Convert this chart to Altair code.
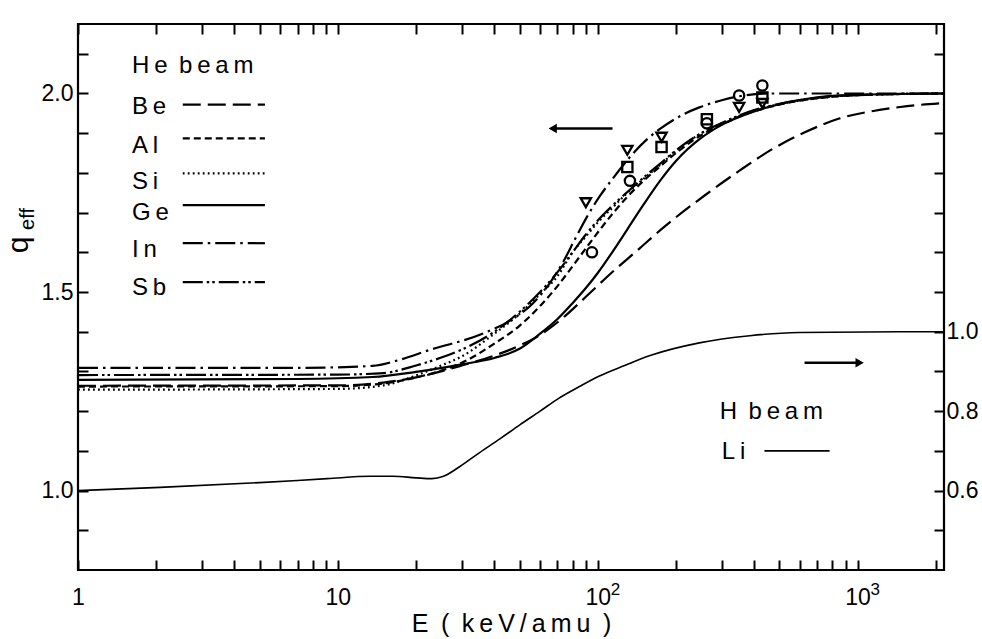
import altair as alt
import pandas as pd

# ---------------- data ----------------
# He beam effective charge, left axis
BE_E = [1, 10, 15, 20, 30, 40, 50, 60, 75, 90, 115, 145, 175, 260, 350, 470, 630, 850, 1150, 1550, 2150]
BE_Q = [1.264, 1.265, 1.272, 1.285, 1.315, 1.340, 1.365, 1.392, 1.440, 1.488, 1.553, 1.610, 1.657, 1.745,
        1.805, 1.860, 1.903, 1.937, 1.956, 1.968, 1.976]

GRID_E = [1, 10, 15, 20, 25, 30, 40, 50, 60, 70, 80, 90, 100, 115, 130, 150, 175, 200, 250, 300, 400, 500, 700, 1000, 2150]
AL_Q = [1.262, 1.263, 1.270, 1.285, 1.302, 1.322, 1.370, 1.415, 1.465, 1.515, 1.565, 1.610, 1.650, 1.700, 1.740,
        1.780, 1.818, 1.850, 1.895, 1.922, 1.955, 1.972, 1.988, 1.996, 2.0]
SI_Q = [1.254, 1.256, 1.265, 1.290, 1.315, 1.338, 1.395, 1.445, 1.495, 1.540, 1.600, 1.640, 1.675, 1.715, 1.750,
        1.785, 1.822, 1.855, 1.900, 1.925, 1.957, 1.973, 1.988, 1.996, 2.0]
SB_Q = [1.291, 1.292, 1.296, 1.315, 1.335, 1.355, 1.400, 1.450, 1.500, 1.550, 1.600, 1.645, 1.680, 1.720, 1.752,
        1.788, 1.825, 1.857, 1.900, 1.926, 1.958, 1.974, 1.989, 1.996, 2.0]

GE_E = [1, 7, 13.6, 20, 30, 40, 50, 60, 70, 80, 90, 100, 115, 130, 150, 175, 200, 250, 300, 400, 500, 700, 1000, 2150]
GE_Q = [1.279, 1.281, 1.286, 1.299, 1.318, 1.334, 1.357, 1.395, 1.432, 1.472, 1.510, 1.548, 1.605, 1.658, 1.720,
        1.783, 1.830, 1.888, 1.921, 1.955, 1.973, 1.990, 1.997, 2.0]

IN_E = [1, 7, 13.6, 17, 22.5, 36, 46, 56, 65, 73.5, 82, 91, 102, 114, 133, 155, 173, 210, 246, 300, 350, 471, 2150]
IN_Q = [1.309, 1.309, 1.314, 1.328, 1.354, 1.395, 1.428, 1.470, 1.520, 1.575, 1.635, 1.690, 1.742, 1.785, 1.840,
        1.885, 1.910, 1.945, 1.965, 1.983, 1.993, 2.0, 2.0]

# H beam (Li target), right axis
H_E = [1, 2.07, 5.0, 9.1, 13.3, 16.3, 20, 23, 25.5, 29.4, 35, 42, 50, 60, 71, 85, 101, 127, 159, 246, 385, 595, 1450, 2150]
H_R = [0.600, 0.608, 0.620, 0.630, 0.636, 0.636, 0.632, 0.630, 0.636, 0.660, 0.695, 0.730, 0.765, 0.800, 0.833,
       0.862, 0.888, 0.915, 0.940, 0.972, 0.990, 0.998, 1.0, 1.0]

# experimental points
TRI_E = [90, 130, 176, 350, 430]
TRI_Q = [1.725, 1.857, 1.89, 1.965, 1.975]
SQ_E = [130, 176, 263, 430]
SQ_Q = [1.815, 1.865, 1.935, 1.99]
CIR_E = [95, 133, 263, 350, 430]
CIR_Q = [1.60, 1.78, 1.925, 1.995, 2.02]

# legend (He beam)
LEG_NAMES = ["B\u2009e", "A\u2009l", "S\u2009i", "G\u2009e", "I\u2009n", "S\u2009b"]
LEG_TEXT_Q = [1.965, 1.869, 1.776, 1.698, 1.606, 1.510]
LEG_LINE_Q = [1.972, 1.887, 1.799, 1.719, 1.623, 1.525]
LEG_TEXT_E = 1.614
LEG_LINE_E = [2.53, 5.24]
HE_TITLE = ["H\u2009e \u2009b\u2009e\u2009a\u2009m"]
HE_TITLE_POS = [1.614, 2.070]

# legend (H beam), right-axis units
H_TITLE = ["H \u2009b\u2009e\u2009a\u2009m"]
H_TITLE_POS = [294.6, 0.798]
LI_TEXT = ["L\u2009i"]
LI_TEXT_POS = [300, 0.698]
LI_LINE_E = [438, 780]
LI_LINE_R = 0.700

# arrows
LEFT_ARROW_E = [67.1, 114]
LEFT_ARROW_Q = 1.912
RIGHT_ARROW_E = [625, 1018]
RIGHT_ARROW_R = 0.922

# axes
X_TICKS = [1, 2, 3, 4, 5, 6, 7, 8, 9, 10, 20, 30, 40, 50, 60, 70, 80, 90, 100,
           200, 300, 400, 500, 600, 700, 800, 900, 1000, 2000]
X_LABELS = {1: "1", 10: "10", 100: "10", 1000: "10"}
X_EXPONENTS = {100: "2", 1000: "3"}
YL_TICKS = [0.9, 1.0, 1.1, 1.2, 1.3, 1.4, 1.5, 1.6, 1.7, 1.8, 1.9, 2.0, 2.1]
YL_LABELS = ["1.0", "1.5", "2.0"]
YR_TICKS = [0.5, 0.6, 0.7, 0.8, 0.9, 1.0, 1.1, 1.2, 1.3, 1.4, 1.5, 1.6, 1.7]
YR_LABELS = ["0.6", "0.8", "1.0"]
X_TITLE = "E\u2002(\u2002k\u2009e\u2009V\u2009/\u2009a\u2009m\u2009u\u2002)"

# ---------------- styling ----------------
FONT = "Liberation Sans, Arial, sans-serif"
FS = 23
LFS = 24
LW = 2.2

x_label_expr = " : ".join(
    f"datum.value == {k} ? '{v}'" for k, v in X_LABELS.items()) + " : ''"
yl_label_expr = ("indexof([" + ",".join(f"'{s}'" for s in YL_LABELS) +
                 "], format(datum.value, '.1f')) >= 0 ? format(datum.value, '.1f') : ''")
yr_label_expr = ("indexof([" + ",".join(f"'{s}'" for s in YR_LABELS) +
                 "], format(datum.value, '.1f')) >= 0 ? format(datum.value, '.1f') : ''")

XSCALE = alt.Scale(type="log", domain=[1, 2150], nice=False)
YL_SCALE = alt.Scale(domain=[0.8, 2.175], nice=False, zero=False)
YR_SCALE = alt.Scale(domain=[0.4, 1.775], nice=False, zero=False)

common_axis = dict(tickSize=10, offset=-10, domain=False, grid=False, labelFont=FONT,
                   labelFontSize=FS, labelColor="black", tickColor="black", tickWidth=2,
                   labelOverlap=False, labelFlush=False, labelBound=False)

X_AXIS_B = alt.Axis(orient="bottom", values=X_TICKS, labelExpr=x_label_expr, labelPadding=16,
                    title=X_TITLE, titleFont=FONT, titleFontSize=25, titleFontWeight="normal",
                    titleColor="black", titlePadding=2, **common_axis)
X_AXIS_T = alt.Axis(orient="top", values=X_TICKS, labels=False, title=None, **common_axis)
YL_AXIS = alt.Axis(orient="left", values=YL_TICKS, labelExpr=yl_label_expr, labelPadding=5,
                   title=None, **common_axis)
YR_AXIS = alt.Axis(orient="right", values=YR_TICKS, labelExpr=yr_label_expr, labelPadding=2,
                   title=None, **common_axis)


def XL():
    return alt.X("E:Q", scale=XSCALE, axis=X_AXIS_B)


def XR():
    return alt.X("E:Q", scale=XSCALE, axis=X_AXIS_T)


def YL():
    return alt.Y("q:Q", scale=YL_SCALE, axis=YL_AXIS)


def YR():
    return alt.Y("r:Q", scale=YR_SCALE, axis=YR_AXIS)


def curve(E, Q, dash, width=LW):
    df = pd.DataFrame({"E": E, "q": Q})
    kw = dict(color="black", strokeWidth=width, interpolate="monotone")
    if dash:
        kw["strokeDash"] = dash
    return alt.Chart(df).mark_line(**kw).encode(x=XL(), y=YL())


SERIES = [
    (BE_E, BE_Q, [18, 7]),
    (GRID_E, AL_Q, [7, 4]),
    (GRID_E, SI_Q, [1.8, 3.2]),
    (GE_E, GE_Q, None),
    (IN_E, IN_Q, [20, 5, 2.5, 5]),
    (GRID_E, SB_Q, [20, 4, 2.5, 3, 2.5, 4]),
]

left_layers = []
for i, (E, Q, dash) in enumerate(SERIES):
    left_layers.append(curve(E, Q, dash))
    left_layers.append(curve(LEG_LINE_E, [LEG_LINE_Q[i]] * 2, dash))

# legend text
leg_df = pd.DataFrame({"E": [LEG_TEXT_E] * len(LEG_NAMES) + [HE_TITLE_POS[0]],
                       "q": LEG_TEXT_Q + [HE_TITLE_POS[1]],
                       "t": LEG_NAMES + HE_TITLE})
left_layers.append(alt.Chart(leg_df).mark_text(align="left", baseline="middle", font=FONT,
                                               fontSize=LFS, color="black")
                   .encode(x=XL(), y=YL(), text="t:N"))

# experimental points
for E, Q, shape in [(TRI_E, TRI_Q, "triangle-down"), (SQ_E, SQ_Q, "square"), (CIR_E, CIR_Q, "circle")]:
    left_layers.append(alt.Chart(pd.DataFrame({"E": E, "q": Q}))
                       .mark_point(shape=shape, filled=False, color="black", strokeWidth=2.3, size=105, opacity=1)
                       .encode(x=XL(), y=YL()))

# left arrow
left_layers.append(curve(LEFT_ARROW_E, [LEFT_ARROW_Q] * 2, None, width=2.4))
left_layers.append(alt.Chart(pd.DataFrame({"E": [LEFT_ARROW_E[0]], "q": [LEFT_ARROW_Q]}))
                   .mark_point(shape="triangle-left", filled=True, color="black", size=90, opacity=1)
                   .encode(x=XL(), y=YL()))

# exponents of the decade labels (10^2, 10^3), placed just right of the "10" label
exp_df = pd.DataFrame({"E": list(X_EXPONENTS.keys()), "t": list(X_EXPONENTS.values())})
left_layers.append(alt.Chart(exp_df).mark_text(align="left", baseline="middle", font=FONT, fontSize=17,
                                               color="black", dx=13)
                   .encode(x=XL(), y=alt.value(566), text="t:N"))

# q_eff title
left_layers.append(alt.Chart(pd.DataFrame({"t": ["q"]})).mark_text(
    angle=270, align="center", baseline="middle", font=FONT, fontSize=30, color="black")
    .encode(x=alt.value(-59), y=alt.value(221), text="t:N"))
left_layers.append(alt.Chart(pd.DataFrame({"t": ["eff"]})).mark_text(
    angle=270, align="center", baseline="middle", font=FONT, fontSize=20, color="black")
    .encode(x=alt.value(-50), y=alt.value(195), text="t:N"))

left_group = alt.layer(*left_layers)

# ---------------- right-axis group (H beam) ----------------
right_layers = []
right_layers.append(alt.Chart(pd.DataFrame({"E": H_E, "r": H_R}))
                    .mark_line(color="black", strokeWidth=1.6, interpolate="monotone")
                    .encode(x=XR(), y=YR()))
right_layers.append(alt.Chart(pd.DataFrame({"E": LI_LINE_E, "r": [LI_LINE_R] * 2}))
                    .mark_line(color="black", strokeWidth=1.6)
                    .encode(x=XR(), y=YR()))
hleg = pd.DataFrame({"E": [H_TITLE_POS[0], LI_TEXT_POS[0]], "r": [H_TITLE_POS[1], LI_TEXT_POS[1]],
                     "t": H_TITLE + LI_TEXT})
right_layers.append(alt.Chart(hleg).mark_text(align="left", baseline="middle", font=FONT,
                                              fontSize=LFS, color="black")
                    .encode(x=XR(), y=YR(), text="t:N"))
right_layers.append(alt.Chart(pd.DataFrame({"E": RIGHT_ARROW_E, "r": [RIGHT_ARROW_R] * 2}))
                    .mark_line(color="black", strokeWidth=2.4)
                    .encode(x=XR(), y=YR()))
right_layers.append(alt.Chart(pd.DataFrame({"E": [RIGHT_ARROW_E[1]], "r": [RIGHT_ARROW_R]}))
                    .mark_point(shape="triangle-right", filled=True, color="black", size=90, opacity=1)
                    .encode(x=XR(), y=YR()))

right_group = alt.layer(*right_layers)

chart = (alt.layer(left_group, right_group)
         .resolve_scale(y="independent")
         .resolve_axis(x="independent", y="independent")
         .properties(width=866, height=546,
                     autosize=alt.AutoSizeParams(type="none"),
                     padding={"left": 78, "top": 24, "right": 38, "bottom": 69},
                     background="white")
         .configure_view(stroke="black", strokeWidth=2.2))

chart.save("out.html", embed_options={"renderer": "svg", "actions": False})
